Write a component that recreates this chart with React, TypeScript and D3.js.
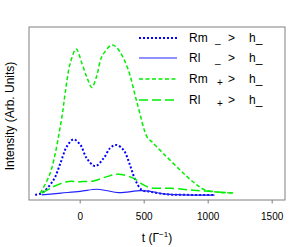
import React from "react";
import * as d3 from "d3";

const W = 300, H = 247;
const xDomain: [number, number] = [-400, 1600];
const yDomain: [number, number] = [0, 1];
const xTicks = [0, 500, 1000, 1500];

// Rm _> h_ (blue dotted)
const rmMinusT = [-352, -300, -208, -156, -104, -52, 0, 52, 117, 182, 234, 281, 338, 390, 430, 482, 547, 677, 800, 1055];
const rmMinusV = [0.03, 0.04, 0.116, 0.21, 0.31, 0.35, 0.32, 0.24, 0.196, 0.24, 0.30, 0.318, 0.29, 0.2, 0.116, 0.058, 0.048, 0.033, 0.03, 0.029];
// Rl _> h_ (blue solid)
const rlMinusT = [-300, -150, 0, 130, 200, 300, 470, 550, 650, 800, 1050];
const rlMinusV = [0.03, 0.04, 0.05, 0.062, 0.055, 0.043, 0.054, 0.05, 0.035, 0.03, 0.028];
// Rm +> h_ (green short dash)
const rmPlusT = [-312, -234, -143, -117, -78, -31, 13, 52, 91, 130, 170, 248, 287, 367, 445, 523, 562, 648, 781, 883, 977, 1195];
const rmPlusV = [0.04, 0.156, 0.48, 0.62, 0.79, 0.873, 0.79, 0.71, 0.65, 0.72, 0.83, 0.896, 0.88, 0.77, 0.56, 0.364, 0.335, 0.27, 0.173, 0.104, 0.058, 0.04];
// Rl +> h_ (green long dash)
const rlPlusT = [-300, -208, -104, 0, 104, 208, 300, 417, 495, 547, 703, 859, 977, 1195];
const rlPlusV = [0.04, 0.077, 0.106, 0.106, 0.11, 0.135, 0.149, 0.125, 0.087, 0.071, 0.068, 0.058, 0.052, 0.04];

const legendNames = ["Rm", "Rl", "Rm", "Rl"];
const legendSubs = ["_", "_", "+", "+"];

export default function App() {
  const left = 29, right = 285, top = 27, bottom = 200;
  const x = d3.scaleLinear().domain(xDomain).range([left, right]);
  const y = d3.scaleLinear().domain(yDomain).range([bottom, top]);
  const line = d3.line<[number, number]>().x(d => x(d[0])).y(d => y(d[1])).curve(d3.curveCatmullRom.alpha(0.5));
  const zip = (t: number[], v: number[]) => t.map((tt, i) => [tt, v[i]] as [number, number]);

  const series = [
    { d: zip(rmMinusT, rmMinusV), stroke: "#0000ff", dash: "2,2", w: 2 },
    { d: zip(rlMinusT, rlMinusV), stroke: "#2222ff", dash: "none", w: 1.2 },
    { d: zip(rmPlusT, rmPlusV), stroke: "#00ee00", dash: "4,2.5", w: 1.5 },
    { d: zip(rlPlusT, rlPlusV), stroke: "#00ee00", dash: "9,4", w: 1.5 },
  ];
  const legendY = [38, 58, 79, 100];
  const font = "Liberation Sans, Arial, sans-serif";

  return (
    <svg width={W} height={H} style={{ position: "absolute", left: 0, top: 0 }} fontFamily={font}>
      <rect x={0} y={0} width={W} height={H} fill="white" />
      <defs>
        <clipPath id="clip"><rect x={left} y={top} width={right - left} height={bottom - top} /></clipPath>
      </defs>
      <g clipPath="url(#clip)">
        {series.map((s, i) => (
          <path key={i} d={line(s.d) || ""} fill="none" stroke={s.stroke} strokeWidth={s.w} strokeDasharray={s.dash} />
        ))}
      </g>
      <rect x={left} y={top} width={right - left} height={bottom - top} fill="none" stroke="#808080" strokeWidth={1} />
      {xTicks.map(t => (
        <g key={t}>
          <line x1={x(t)} x2={x(t)} y1={bottom} y2={bottom + 3.5} stroke="#808080" strokeWidth={1} />
          <text x={x(t)} y={220} fontSize={10} textAnchor="middle" fill="#000">{t}</text>
        </g>
      ))}
      <text x={157} y={242} fontSize={12} textAnchor="middle" fill="#000">
        t (Γ<tspan dy={-5} fontSize={8}>−1</tspan><tspan dy={5}>)</tspan>
      </text>
      <text transform={`translate(14,116) rotate(-90)`} fontSize={12} textAnchor="middle" fill="#000">Intensity (Arb. Units)</text>
      {series.map((s, i) => (
        <g key={i}>
          <line x1={139} x2={177} y1={legendY[i]} y2={legendY[i]} stroke={s.stroke} strokeWidth={s.w} strokeDasharray={s.dash} />
          <text x={189} y={legendY[i] + 4} fontSize={12} fill="#000">{legendNames[i]}</text>
          <text x={legendSubs[i] === "+" ? 217 : 215} y={legendY[i] + (legendSubs[i] === "+" ? 6.5 : 4.5)} fontSize={10} fill="#000">{legendSubs[i]}</text>
          <text x={228} y={legendY[i] + 4} fontSize={12} fill="#000">&gt;</text>
          <text x={249} y={legendY[i] + 4} fontSize={12} fill="#000">h_</text>
        </g>
      ))}
    </svg>
  );
}
